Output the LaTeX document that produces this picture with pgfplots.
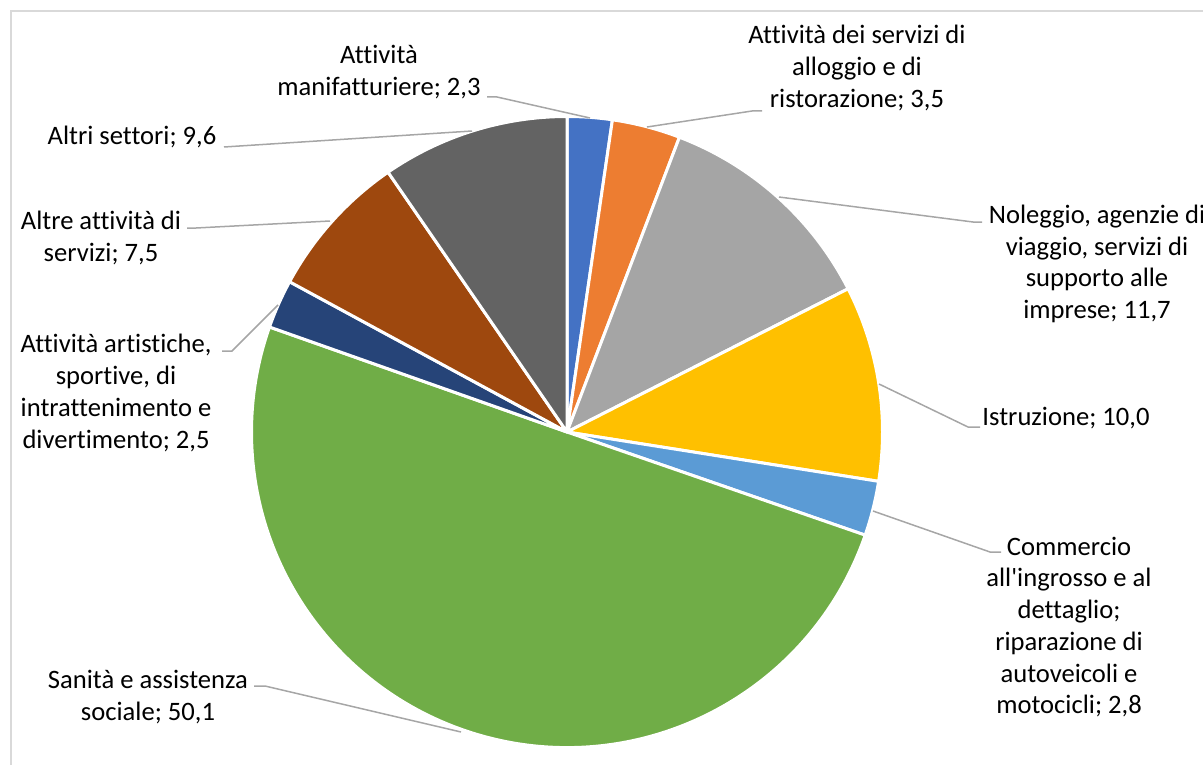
\documentclass[border=0pt]{standalone}
\usepackage{pgfplots}
\pgfplotsset{compat=1.18}
\usepackage{fontspec}
\setmainfont{Carlito}[Ligatures={TeXOff,CommonOff}]
\definecolor{cA}{HTML}{4472C4}
\definecolor{cB}{HTML}{ED7D31}
\definecolor{cC}{HTML}{A5A5A5}
\definecolor{cD}{HTML}{FFC000}
\definecolor{cE}{HTML}{5B9BD5}
\definecolor{cF}{HTML}{70AD47}
\definecolor{cG}{HTML}{264478}
\definecolor{cH}{HTML}{9E480E}
\definecolor{cI}{HTML}{636363}
\definecolor{leadc}{HTML}{A6A6A6}
\definecolor{framec}{HTML}{D9D9D9}
\begin{document}
\begin{tikzpicture}
\begin{axis}[hide axis, scale only axis, width=601.5bp, height=382.5bp,
  xmin=0, xmax=1203, ymin=0, ymax=765, y dir=reverse, clip=false]
\addplot[draw=none] coordinates {(0,0) (1203,765)};
\pgfplotsextra{%
  \draw[framec, line width=0.75bp] (axis cs:11,800) -- (axis cs:11,11) -- (axis cs:1250,11);
  \xdef\angA{90}%
  \foreach \v/\c in {2.3/cA, 3.5/cB, 11.7/cC, 10.0/cD, 2.8/cE, 50.1/cF, 2.5/cG, 7.5/cH, 9.6/cI}{%
    \pgfmathsetmacro\angB{\angA-3.6*\v}%
    \filldraw[fill=\c, draw=white, line width=1.5bp, line join=round]
      (axis cs:567,432) -- ++(\angA:157.75bp) arc[start angle=\angA, end angle=\angB, radius=157.75bp] -- cycle;
    \xdef\angA{\angB}%
  }%
}
\tikzset{lead/.style={leadc, line width=0.75bp}, lab/.style={align=center, inner sep=0pt, font=\fontsize{13.3bp}{15.85bp}\selectfont, text=black}}
\draw[lead] (axis cs:224,147) -- (axis cs:472,131);
\draw[lead] (axis cs:487,97) -- (axis cs:497,97) -- (axis cs:590,118);
\draw[lead] (axis cs:647,127) -- (axis cs:752,111) -- (axis cs:762,111);
\draw[lead] (axis cs:779,197) -- (axis cs:973,222) -- (axis cs:982,222);
\draw[lead] (axis cs:879,384) -- (axis cs:968,427) -- (axis cs:980,427);
\draw[lead] (axis cs:873,511) -- (axis cs:990,552) -- (axis cs:1001,552);
\draw[lead] (axis cs:278,305) -- (axis cs:232,351) -- (axis cs:222,351);
\draw[lead] (axis cs:330,221) -- (axis cs:196,228) -- (axis cs:187,228);
\draw[lead] (axis cs:461,732) -- (axis cs:265,686) -- (axis cs:254,686);
\node[lab] at (axis cs:379,72) {Attività\\manifatturiere; 2,3};
\node[lab] at (axis cs:857,68) {Attività dei servizi di\\alloggio e di\\ristorazione; 3,5};
\node[lab] at (axis cs:1097,264) {Noleggio, agenzie di\\viaggio, servizi di\\supporto alle\\imprese; 11,7};
\node[lab] at (axis cs:1066,418) {Istruzione; 10,0};
\node[lab] at (axis cs:1069,627) {Commercio\\all'ingrosso e al\\dettaglio;\\riparazione di\\autoveicoli e\\motocicli; 2,8};
\node[lab] at (axis cs:148,697) {Sanità e assistenza\\sociale; 50,1};
\node[lab] at (axis cs:116,393) {Attività artistiche,\\sportive, di\\intrattenimento e\\divertimento; 2,5};
\node[lab] at (axis cs:101,238) {Altre attività di\\servizi; 7,5};
\node[lab] at (axis cs:132,137) {Altri settori; 9,6};
\end{axis}
\pgfresetboundingbox
\path (current axis.south west) rectangle (current axis.north east);
\end{tikzpicture}
\end{document}
